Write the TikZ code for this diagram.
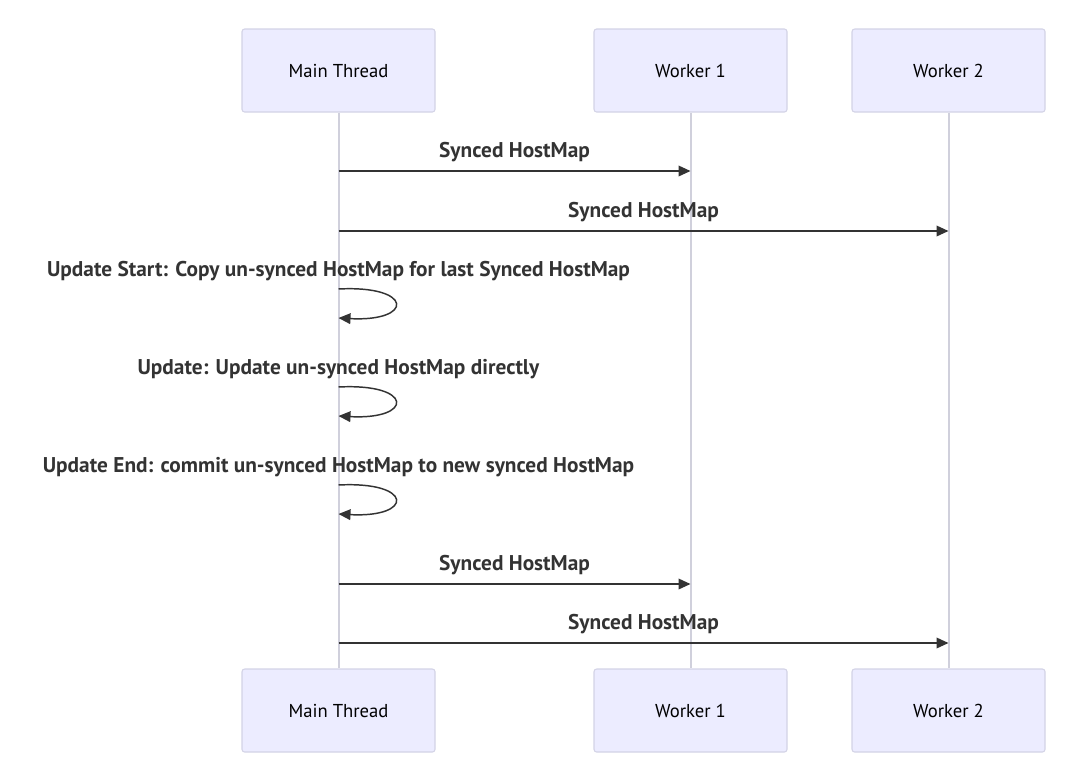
\documentclass[tikz,border=0pt]{standalone}
\usepackage{fontspec}
\setmainfont{PT Sans}
\usetikzlibrary{arrows.meta, positioning}

\definecolor{boxfill}{HTML}{ECECFF}
\definecolor{boxline}{HTML}{D3D3E6}
\definecolor{lifeline}{HTML}{D0D0DC}
\definecolor{msgline}{HTML}{333333}

\tikzset{
    actor/.style={draw=boxline, fill=boxfill, rounded corners=2pt, line width=0.8pt,
        minimum width=144.75pt, minimum height=62.25pt, font=\fontsize{14}{16}\selectfont},
    msg/.style={msgline, line width=1.1pt, -{Triangle[length=9pt, width=8pt]}},
    msglabel/.style={font=\fontsize{16}{18}\selectfont\bfseries, text=msgline, inner sep=0pt},
    life/.style={lifeline, line width=1.5pt}
}

\begin{document}
\begin{tikzpicture}[x=0.75pt, y=-0.75pt]
        % Fix canvas size
        \useasboundingbox (0,0) rectangle (1080,775);
        % Draw participants
        \node[actor] (mainTop) at (338.5,70.5) {Main Thread};
        \node[actor] (workerOneTop) at (690.5,70.5) {Worker 1};
        \node[actor] (workerTwoTop) at (948.5,70.5) {Worker 2};
        \node[actor] (mainBot) at (338.5,710.5) {Main Thread};
        \node[actor] (workerOneBot) at (690.5,710.5) {Worker 1};
        \node[actor] (workerTwoBot) at (948.5,710.5) {Worker 2};
        % Draw lifelines
        \draw[life] (mainTop) -- (mainBot);
        \draw[life] (workerOneTop) -- (workerOneBot);
        \draw[life] (workerTwoTop) -- (workerTwoBot);
        % Message anchors
        \coordinate (m1) at (338.5,171);
        \coordinate (w1a) at (690.5,171);
        \coordinate (m2) at (338.5,231);
        \coordinate (w2a) at (948.5,231);
        \coordinate (m6) at (338.5,584);
        \coordinate (w1b) at (690.5,584);
        \coordinate (m7) at (338.5,643);
        \coordinate (w2b) at (948.5,643);
        % Draw messages
        \draw[msg] (m1) -- (w1a)
            node[msglabel, midway, above=6pt] {Synced HostMap};
        \draw[msg] (m2) -- (w2a)
            node[msglabel, midway, above=6pt] {Synced HostMap};
        \draw[msg] (m6) -- (w1b)
            node[msglabel, midway, above=6pt] {Synced HostMap};
        \draw[msg] (m7) -- (w2b)
            node[msglabel, midway, above=6pt] {Synced HostMap};
        % Draw self messages
        \foreach \y/\name/\txt in {
                289/start/{Update Start: Copy un-synced HostMap for last Synced HostMap},
                387/update/{Update: Update un-synced HostMap directly},
                485/finish/{Update End: commit un-synced HostMap to new synced HostMap}} {
            \coordinate (\name Out) at (338.5,\y);
            \coordinate (\name In) at (338.5,\y+29);
            \node[msglabel] (\name Label) at (338.5,\y-18) {\txt};
            \draw[msg] (\name Out)
                .. controls (414,\y-4) and (414,\y+33) .. (\name In);
        }
    \end{tikzpicture}
\end{document}
